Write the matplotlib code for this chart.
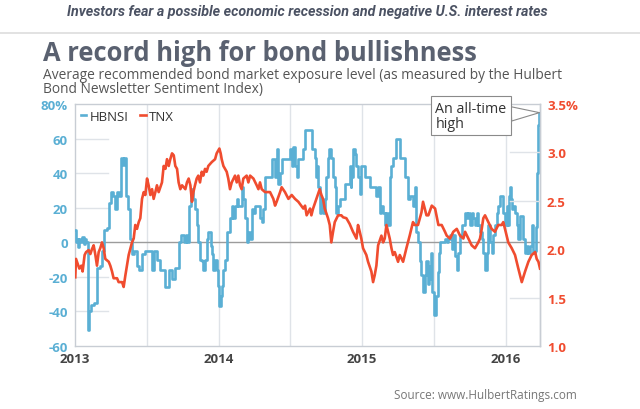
import matplotlib
matplotlib.use("Agg")
import matplotlib.pyplot as plt
from matplotlib.lines import Line2D

# Hulbert Bond Newsletter Sentiment Index, step readings (decimal year, %)
hbnsi_year = [
    2013.000, 2013.005, 2013.012, 2013.020, 2013.030, 2013.040, 2013.050, 2013.060, 2013.070, 2013.080,
    2013.088, 2013.100, 2013.110, 2013.135, 2013.155, 2013.176, 2013.190, 2013.200, 2013.225, 2013.235,
    2013.250, 2013.265, 2013.276, 2013.293, 2013.305, 2013.323, 2013.335, 2013.342, 2013.355, 2013.369,
    2013.386, 2013.397, 2013.409, 2013.432, 2013.444, 2013.467, 2013.490, 2013.537, 2013.548, 2013.570,
    2013.595, 2013.630, 2013.653, 2013.676, 2013.699, 2013.722, 2013.741, 2013.760, 2013.770, 2013.780,
    2013.797, 2013.808, 2013.820, 2013.836, 2013.848, 2013.859, 2013.871, 2013.883, 2013.894, 2013.906,
    2013.917, 2013.929, 2013.945, 2013.953, 2013.964, 2013.976, 2013.987, 2013.999, 2014.006, 2014.015,
    2014.022, 2014.034, 2014.045, 2014.057, 2014.080, 2014.092, 2014.103, 2014.115, 2014.127, 2014.138,
    2014.161, 2014.173, 2014.185, 2014.196, 2014.208, 2014.220, 2014.231, 2014.243, 2014.254, 2014.289,
    2014.301, 2014.312, 2014.324, 2014.370, 2014.394, 2014.405, 2014.417, 2014.429, 2014.440, 2014.498,
    2014.510, 2014.521, 2014.533, 2014.545, 2014.556, 2014.591, 2014.603, 2014.651, 2014.675, 2014.682,
    2014.689, 2014.693, 2014.705, 2014.717, 2014.728, 2014.740, 2014.752, 2014.763, 2014.770, 2014.786,
    2014.798, 2014.810, 2014.821, 2014.833, 2014.844, 2014.879, 2014.914, 2014.921, 2014.926, 2014.937,
    2014.949, 2014.961, 2014.972, 2014.984, 2014.995, 2015.019, 2015.053, 2015.100, 2015.112, 2015.123,
    2015.135, 2015.147, 2015.158, 2015.170, 2015.181, 2015.193, 2015.205, 2015.216, 2015.239, 2015.263,
    2015.297, 2015.320, 2015.332, 2015.355, 2015.367, 2015.379, 2015.390, 2015.402, 2015.414, 2015.425,
    2015.437, 2015.449, 2015.458, 2015.467, 2015.474, 2015.481, 2015.490, 2015.504, 2015.513, 2015.527,
    2015.536, 2015.543, 2015.578, 2015.590, 2015.602, 2015.613, 2015.625, 2015.636, 2015.648, 2015.660,
    2015.671, 2015.683, 2015.694, 2015.718, 2015.729, 2015.741, 2015.752, 2015.764, 2015.775, 2015.787,
    2015.799, 2015.810, 2015.822, 2015.834, 2015.845, 2015.857, 2015.868, 2015.880, 2015.891, 2015.903,
    2015.914, 2015.926, 2015.938, 2015.949, 2015.961, 2015.984, 2015.996, 2016.007, 2016.019, 2016.024,
    2016.031, 2016.038, 2016.047, 2016.054, 2016.066, 2016.077, 2016.089, 2016.101, 2016.124, 2016.136,
    2016.147, 2016.159, 2016.171, 2016.182, 2016.194, 2016.206, 2016.212, 2016.220, 2016.224, 2016.229,
    2016.236, 2016.240,
]
hbnsi_value = [
    7, 0, 2, -3, 2, 0, 3, -1, 2, 0,
    -51, -40, -36, -35, -15, -14, -5, 7, 8, 23,
    29, 27, 19, 29, 27, 49, 45, 49, 27, 19,
    2, -7, -5, -14, -16, -7, -5, -16, -5, -10,
    -16, -26, -16, -21, -15, 0, 4, 0, 4, 0,
    21, 31, 25, 19, 10, 0, -10, -11, -16, -10,
    2, 6, -2, -7, -16, -10, -16, -25, -37, -31,
    -25, -16, -10, 6, 14, 21, 14, 21, 25, 21,
    32, 25, 14, 0, 6, 2, 19, 17, 21, 14,
    12, 19, 38, 48, 38, 54, 34, 40, 48, 54,
    44, 55, 44, 38, 48, 54, 65, 54, 49, 38,
    44, 32, 17, 25, 17, 25, 38, 49, 54, 49,
    38, 32, 17, 21, 25, 34, 44, 32, 38, 54,
    51, 44, 38, 28, 44, 38, 32, 27, 32, 17,
    21, 17, 10, 17, 10, 38, 44, 49, 60, 49,
    38, 25, 27, 21, 32, 6, 0, -11, -19, -29,
    -19, -11, -24, -14, -21, -6, -29, -42, -31, -17,
    -6, 0, 2, 0, 2, 4, -4, 4, -8, -16,
    -6, 4, 10, 17, 14, 17, 10, 17, 14, 10,
    17, 10, 6, 2, -6, -16, -6, 10, 0, -6,
    4, 10, 17, 21, 27, 17, 10, 21, 10, 27,
    32, 25, 19, 21, 17, 10, 2, 15, 2, -6,
    -2, -6, -2, 10, -6, -5, 9, 40, 62, 68,
    75, 75,
]

# 10-year Treasury yield, TNX (decimal year, %)
tnx_year = [
    2013.002, 2013.007, 2013.030, 2013.044, 2013.053, 2013.067, 2013.077, 2013.095, 2013.107, 2013.118,
    2013.130, 2013.142, 2013.153, 2013.165, 2013.176, 2013.188, 2013.200, 2013.211, 2013.235, 2013.246,
    2013.258, 2013.269, 2013.293, 2013.304, 2013.328, 2013.339, 2013.351, 2013.362, 2013.374, 2013.386,
    2013.397, 2013.409, 2013.420, 2013.432, 2013.444, 2013.455, 2013.467, 2013.479, 2013.490, 2013.502,
    2013.513, 2013.525, 2013.537, 2013.548, 2013.560, 2013.571, 2013.583, 2013.606, 2013.618, 2013.630,
    2013.641, 2013.653, 2013.664, 2013.676, 2013.688, 2013.699, 2013.711, 2013.722, 2013.734, 2013.746,
    2013.769, 2013.780, 2013.792, 2013.804, 2013.815, 2013.825, 2013.836, 2013.848, 2013.859, 2013.871,
    2013.883, 2013.894, 2013.906, 2013.917, 2013.929, 2013.953, 2013.976, 2013.987, 2014.006, 2014.015,
    2014.022, 2014.034, 2014.057, 2014.068, 2014.080, 2014.092, 2014.115, 2014.127, 2014.138, 2014.150,
    2014.161, 2014.173, 2014.196, 2014.208, 2014.220, 2014.243, 2014.266, 2014.278, 2014.289, 2014.301,
    2014.324, 2014.359, 2014.382, 2014.394, 2014.405, 2014.429, 2014.440, 2014.463, 2014.487, 2014.510,
    2014.533, 2014.556, 2014.591, 2014.603, 2014.614, 2014.638, 2014.647, 2014.659, 2014.682, 2014.705,
    2014.717, 2014.728, 2014.740, 2014.763, 2014.775, 2014.786, 2014.798, 2014.810, 2014.833, 2014.856,
    2014.868, 2014.891, 2014.914, 2014.937, 2014.961, 2014.972, 2014.984, 2014.995, 2015.007, 2015.030,
    2015.042, 2015.065, 2015.077, 2015.088, 2015.100, 2015.112, 2015.135, 2015.147, 2015.158, 2015.170,
    2015.193, 2015.205, 2015.216, 2015.228, 2015.251, 2015.263, 2015.286, 2015.309, 2015.332, 2015.355,
    2015.367, 2015.390, 2015.414, 2015.425, 2015.449, 2015.462, 2015.486, 2015.509, 2015.532, 2015.555,
    2015.578, 2015.590, 2015.613, 2015.636, 2015.660, 2015.683, 2015.706, 2015.718, 2015.741, 2015.764,
    2015.787, 2015.810, 2015.822, 2015.834, 2015.845, 2015.857, 2015.880, 2015.903, 2015.926, 2015.949,
    2015.973, 2015.984, 2015.996, 2016.019, 2016.043, 2016.066, 2016.089, 2016.113, 2016.136, 2016.159,
    2016.182, 2016.206, 2016.217, 2016.229, 2016.240,
]
tnx_value = [
    1.71, 1.90, 1.80, 1.83, 1.77, 1.94, 1.97, 1.99, 1.95, 2.00,
    2.04, 1.94, 1.83, 1.97, 2.01, 2.07, 2.01, 1.90, 1.87, 1.83,
    1.77, 1.70, 1.70, 1.66, 1.66, 1.61, 1.73, 1.83, 1.94, 2.01,
    2.07, 2.11, 2.25, 2.21, 2.28, 2.32, 2.52, 2.59, 2.56, 2.73,
    2.66, 2.56, 2.62, 2.52, 2.59, 2.66, 2.59, 2.69, 2.86, 2.83,
    2.93, 2.86, 2.93, 2.99, 2.97, 2.86, 2.83, 2.69, 2.62, 2.66,
    2.62, 2.69, 2.73, 2.66, 2.49, 2.59, 2.66, 2.73, 2.76, 2.69,
    2.80, 2.76, 2.83, 2.80, 2.86, 2.90, 2.93, 2.99, 3.04, 2.99,
    2.93, 2.86, 2.80, 2.73, 2.62, 2.69, 2.76, 2.69, 2.76, 2.66,
    2.62, 2.73, 2.76, 2.69, 2.76, 2.73, 2.66, 2.62, 2.69, 2.62,
    2.59, 2.59, 2.52, 2.45, 2.49, 2.59, 2.64, 2.59, 2.52, 2.56,
    2.52, 2.49, 2.42, 2.45, 2.35, 2.42, 2.35, 2.42, 2.52, 2.62,
    2.56, 2.52, 2.42, 2.32, 2.25, 2.07, 2.18, 2.28, 2.35, 2.35,
    2.33, 2.32, 2.26, 2.18, 2.11, 2.25, 2.18, 2.11, 2.01, 1.94,
    1.87, 1.77, 1.66, 1.73, 1.83, 2.04, 2.14, 2.07, 2.11, 2.25,
    2.11, 2.01, 1.94, 1.97, 1.87, 1.94, 1.87, 2.01, 2.14, 2.28,
    2.25, 2.25, 2.38, 2.49, 2.35, 2.35, 2.45, 2.42, 2.25, 2.25,
    2.18, 2.14, 2.11, 2.18, 2.21, 2.14, 2.11, 2.18, 2.11, 2.04,
    2.01, 2.07, 2.11, 2.21, 2.32, 2.35, 2.28, 2.21, 2.18, 2.25,
    2.25, 2.28, 2.21, 2.07, 2.01, 1.94, 1.80, 1.66, 1.77, 1.87,
    1.94, 1.97, 1.90, 1.87, 1.80,
]

left_ticks = [-60, -40, -20, 0, 20, 40, 60, 80]
left_labels = ["-60", "-40", "-20", "0", "20", "40", "60", "80%"]
right_ticks = [1.0, 1.5, 2.0, 2.5, 3.0, 3.5]
right_labels = ["1.0", "1.5", "2.0", "2.5", "3.0", "3.5%"]
year_ticks = [2013, 2014, 2015, 2016]
year_labels = ["2013", "2014", "2015", "2016"]
half_years = [2013.5, 2014.0, 2014.5, 2015.0, 2015.5, 2016.0]
left_stubs = [60, 40, 20, -20, -40]
right_stubs = [3.0, 2.5, 1.5]

BLUE = "#5aafd4"
RED = "#f04c2f"
GRID = "#dfe3e8"
SPINE = "#c8cdd4"
FONT = ["Open Sans", "DejaVu Sans"]

plt.rcParams["font.family"] = FONT

fig = plt.figure(figsize=(6.4, 4.1), dpi=100)
ax = fig.add_axes([75 / 640, 1 - 347 / 410, 465 / 640, 242 / 410])
ax2 = ax.twinx()

ax.set_xlim(2013, 2016.24)
ax.set_ylim(-60, 80)
ax2.set_ylim(1.0, 3.5)

for x in half_years:
    ax.axvline(x, color=GRID, lw=1, zorder=0)
for v in left_stubs:
    ax.axhline(v, xmin=0, xmax=0.07, color=GRID, lw=1, zorder=0)
for v in right_stubs:
    ax2.axhline(v, xmin=0.935, xmax=1, color=GRID, lw=1, zorder=0)
ax.axhline(0, color="#9c9c9c", lw=1, zorder=1)

(hb_line,) = ax.step(hbnsi_year, hbnsi_value, where="post", color=BLUE, lw=1.9, zorder=3)
(tnx_line,) = ax2.plot(tnx_year, tnx_value, color=RED, lw=1.9, zorder=3)

for s in ax.spines.values():
    s.set_color(SPINE)
    s.set_linewidth(1)
for name, s in ax2.spines.items():
    s.set_visible(name == "right")
    s.set_color(SPINE)
    s.set_linewidth(1)

ax.set_yticks(left_ticks)
ax.set_yticklabels(left_labels)
ax2.set_yticks(right_ticks)
ax2.set_yticklabels(right_labels)
ax.set_xticks(year_ticks)
ax.set_xticklabels(year_labels)
ax.tick_params(axis="y", length=0, pad=5, labelcolor=BLUE, labelsize=9.5)
ax2.tick_params(axis="y", length=0, pad=5, labelcolor=RED, labelsize=9.5)
ax.tick_params(axis="x", length=0, pad=4, labelcolor="#444444", labelsize=9.5)
for lab in ax.get_yticklabels() + ax2.get_yticklabels() + ax.get_xticklabels():
    lab.set_fontweight("bold")

ax.legend([hb_line, tnx_line], ["HBNSI", "TNX"], loc="upper left", ncol=2, frameon=False,
          handlelength=0.4, handletextpad=0.25, columnspacing=0.9, fontsize=9.5,
          borderaxespad=0.15, borderpad=0.3, labelcolor="#333333")

# callout lives on the twin axes so nothing from it is drawn over the box
ax2.annotate("An all-time\nhigh", xy=(hbnsi_year[-1] - 0.004, hbnsi_value[-1]), xycoords=ax.transData,
             xytext=(-104, -3), textcoords="offset pixels", ha="left", va="center",
             fontsize=10.3, color="#333333", linespacing=1.0,
             bbox=dict(boxstyle="square,pad=0.3", fc="white", ec="#8a8a8a", lw=0.8),
             arrowprops=dict(arrowstyle="wedge,tail_width=1.0", fc="white", ec="#8a8a8a",
                             lw=0.8, shrinkA=0, shrinkB=0),
             zorder=6)

fig.text(0.48, 1 - 12 / 410, "Investors fear a possible economic recession and negative U.S. interest rates",
         ha="center", va="center", fontsize=10.3, style="italic", weight="bold", color="#4b5263",
         family=["Roboto", "DejaVu Sans"])
fig.add_artist(Line2D([0, 1], [1 - 34 / 410] * 2, transform=fig.transFigure, color="#dddddd", lw=1.2))
fig.text(43 / 640, 1 - 61 / 410, "A record high for bond bullishness", ha="left", va="baseline",
         fontsize=18.4, weight="bold", color="#5a6170")
fig.text(43 / 640, 1 - 75.5 / 410,
         "Average recommended bond market exposure level (as measured by the Hulbert",
         ha="left", va="center", fontsize=9.9, color="#555555")
fig.text(43 / 640, 1 - 89.5 / 410, "Bond Newsletter Sentiment Index)",
         ha="left", va="center", fontsize=9.9, color="#555555")
fig.text(577 / 640, 1 - 396 / 410, "Source: www.HulbertRatings.com", ha="right", va="center",
         fontsize=8.5, color="#777777")

fig.savefig("out.png", dpi=100)
